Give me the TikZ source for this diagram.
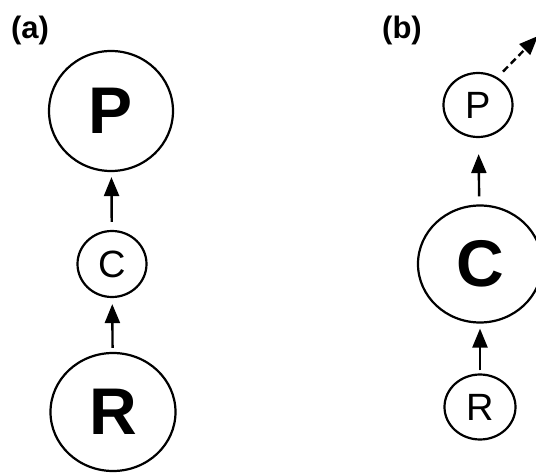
\documentclass[tikz,border=0pt]{standalone}
\usepackage{fontspec}
\setmainfont{Liberation Sans}
\usetikzlibrary{arrows.meta,shapes.geometric}
\begin{document}
\begin{tikzpicture}[x=1pt,y=-1pt,
  state/.style={draw,ellipse,line width=2.2pt,inner sep=0pt},
  bigstate/.style={state,font=\fontsize{66}{66}\selectfont\bfseries},
  smallstate/.style={state,font=\fontsize{38}{38}\selectfont},
  arr/.style={line width=2.4pt,-{Triangle[width=15pt,length=19pt]}},
  dasharr/.style={arr,dash pattern=on 7pt off 4pt},
  panel/.style={font=\fontsize{31}{31}\selectfont\bfseries}]
\useasboundingbox (0,0) rectangle (536,473);
% panel (a)
\node[panel] (la) at (30,30) {(a)};
\node[bigstate,minimum width=124pt,minimum height=120pt] (Pa) at (111,111) {P};
\node[smallstate,minimum width=69pt,minimum height=66pt] (Ca) at (112,264) {C};
\node[bigstate,minimum width=125pt,minimum height=118pt] (Ra) at (113,412) {R};
\draw[arr,shorten <=8pt,shorten >=5pt] (Ca) -- (Pa);
\draw[arr,shorten <=4pt,shorten >=6pt] (Ra) -- (Ca);
% panel (b)
\node[panel] (lb) at (402,30) {(b)};
\node[smallstate,minimum width=69pt,minimum height=64pt] (Pb) at (478,105) {P};
\node[bigstate,minimum width=124pt,minimum height=117pt] (Cb) at (480,264) {C};
\node[smallstate,minimum width=71pt,minimum height=65pt] (Rb) at (480,407) {R};
\coordinate (dend) at (538,36);
\draw[arr,shorten <=8pt,shorten >=16pt] (Cb) -- (Pb);
\draw[arr,shorten <=3pt,shorten >=5pt] (Rb) -- (Cb);
\draw[dasharr,shorten <=8pt] (Pb.55) -- (dend);
\end{tikzpicture}
\end{document}
